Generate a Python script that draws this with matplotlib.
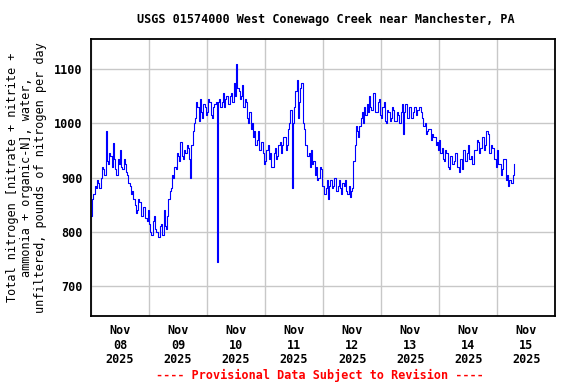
import numpy as np
import pandas as pd
import matplotlib
matplotlib.use("Agg")
import matplotlib.pyplot as plt
import matplotlib.dates as mdates

# half-hourly values, starting Nov 08 2025 00:00
nov08 = [830, 860, 870, 885, 880, 895, 890, 880, 900, 920, 915, 905,
         985, 930, 925, 945, 940, 920, 963, 935, 915, 905, 935, 925,
         950, 920, 915, 935, 925, 910, 905, 890, 885, 870, 875, 860,
         850, 835, 840, 860, 855, 830, 830, 845, 845, 825, 820, 840]
nov09 = [815, 800, 795, 820, 830, 805, 800, 790, 790, 810, 815, 795,
         840, 810, 805, 830, 860, 875, 880, 905, 900, 920, 915, 945,
         940, 930, 965, 940, 935, 950, 945, 960, 955, 935, 900, 960,
         985, 1000, 1010, 1040, 1030, 1005, 1045, 1020, 1010, 1035, 1030, 1015]
nov10 = [1020, 1045, 1040, 1015, 1010, 1030, 1035, 1040, 745, 1040, 1045, 1030,
         1040, 1055, 1030, 1045, 1050, 1035, 1035, 1050, 1055, 1040, 1075, 1050,
         1110, 1065, 1060, 1045, 1050, 1070, 1030, 1045, 1040, 1010, 1000, 1020,
         990, 1000, 975, 985, 960, 970, 985, 950, 950, 965, 945, 925]
nov11 = [930, 950, 960, 935, 945, 920, 920, 945, 955, 935, 940, 960,
         965, 945, 960, 975, 975, 950, 960, 990, 1000, 1025, 880, 1000,
         1030, 1060, 1080, 1010, 1040, 1065, 1075, 1000, 990, 960, 960, 940,
         945, 920, 950, 925, 930, 905, 920, 895, 900, 920, 915, 885]
nov12 = [885, 870, 880, 895, 860, 885, 895, 880, 885, 900, 900, 875,
         885, 895, 880, 870, 890, 885, 895, 875, 870, 885, 865, 875,
         880, 930, 960, 995, 985, 975, 995, 1010, 1020, 1000, 1030, 1015,
         1035, 1020, 1050, 1030, 1025, 1055, 1055, 1020, 1020, 1040, 1045, 1015]
nov13 = [1010, 1030, 1040, 1005, 1000, 1025, 1020, 1005, 1010, 1030, 1025, 1005,
         1005, 1020, 1015, 1000, 1020, 1035, 980, 1020, 1035, 1010, 1010, 1030,
         1030, 1010, 1020, 1030, 1030, 1015, 1025, 1030, 1030, 1020, 1010, 995,
         1000, 980, 985, 990, 990, 970, 980, 975, 975, 960, 965, 950]
nov14 = [970, 945, 955, 935, 930, 950, 945, 920, 915, 940, 940, 925,
         930, 945, 945, 920, 910, 935, 935, 915, 950, 930, 930, 945,
         960, 935, 940, 925, 925, 950, 950, 970, 965, 945, 955, 975,
         975, 950, 960, 985, 980, 945, 945, 960, 955, 935, 935, 920]
nov15 = [950, 925, 925, 905, 915, 935, 935, 895, 905, 885, 895, 890,
         890, 905, 925]

values = nov08 + nov09 + nov10 + nov11 + nov12 + nov13 + nov14 + nov15
times = pd.date_range("2025-11-08 00:00", periods=len(values), freq="30min")

title = "USGS 01574000 West Conewago Creek near Manchester, PA"
ylabel = ("Total nitrogen [nitrate + nitrite +\n"
          "ammonia + organic-N], water,\n"
          "unfiltered, pounds of nitrogen per day")
footer = "---- Provisional Data Subject to Revision ----"

plt.rcParams["font.family"] = "DejaVu Sans Mono"
plt.rcParams["font.weight"] = "bold"

fig = plt.figure(figsize=(5.76, 3.84), dpi=100)
ax = fig.add_axes([0.158, 0.177, 0.806, 0.721])

ax.plot(times, values, color="#0000ff", lw=0.8, drawstyle="steps-post")

ax.set_xlim(pd.Timestamp("2025-11-08"), pd.Timestamp("2025-11-16"))
ax.set_ylim(645, 1155)
ax.set_yticks([700, 800, 900, 1000, 1100])

ax.xaxis.set_major_locator(mdates.DayLocator())
ax.xaxis.set_major_formatter(plt.NullFormatter())
ax.xaxis.set_minor_locator(mdates.HourLocator(byhour=12))
ax.xaxis.set_minor_formatter(mdates.DateFormatter("%b\n%d\n%Y"))
ax.tick_params(axis="both", which="both", length=0, labelsize=8.5)
ax.tick_params(axis="x", which="minor", pad=6)
ax.tick_params(axis="y", pad=6)
for lab in ax.get_xticklabels(minor=True):
    lab.set_linespacing(1.15)

ax.grid(True, which="major", color="#c8c8c8", lw=1)
ax.set_axisbelow(True)
for s in ax.spines.values():
    s.set_linewidth(1.3)

ax.set_ylabel(ylabel, fontsize=8.6, linespacing=1.1, labelpad=5)
fig.text(0.565, 0.948, title, ha="center", va="center", fontsize=8.5)
fig.text(0.556, 0.023, footer, ha="center", va="center", fontsize=8.5, color="red")

fig.savefig("out.png", dpi=100)
